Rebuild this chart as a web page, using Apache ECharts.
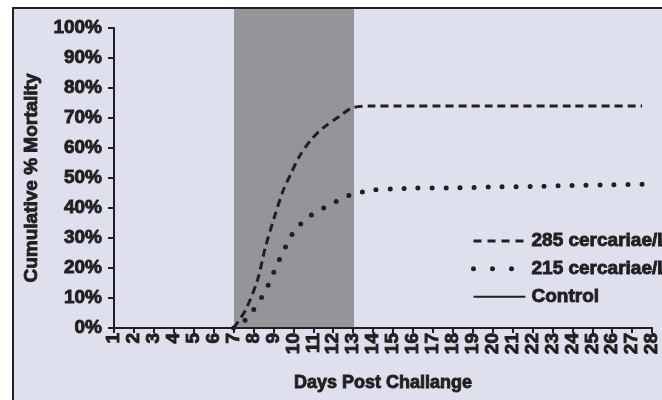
<!DOCTYPE html>
<html>
<head>
<meta charset="utf-8">
<script src="https://cdn.jsdelivr.net/npm/echarts@6/dist/echarts.min.js"></script>
<style>
html,body{margin:0;padding:0;background:#fff;}
#chart{width:662px;height:400px;}
</style>
</head>
<body>
<div id="chart"></div>
<script>
// ---- data ----
var xTickMin = 1, xTickMax = 28;
var yTickMin = 0, yTickMax = 100, yTickStep = 10;
var bandStartDay = 7, bandEndDay = 13;

var seriesNames = ['285 cercariae/L', '215 cercariae/L', 'Control'];

var days285 = [7, 7.6, 8.2, 8.6, 9.05, 9.5, 9.9, 10.3, 10.9, 11.5, 12.3, 13, 14, 16, 20, 24, 27.5];
var mort285 = [0, 6, 16, 27, 37, 46, 51.7, 57.2, 62.8, 66.7, 70.5, 73.5, 74, 74, 74, 74, 74];

var days215 = [7, 7.3, 7.8, 8.47, 8.8, 9.1, 9.4, 9.73, 10.1, 10.8, 11.3, 11.7, 12.45, 13, 13.5, 14, 15, 16, 17, 18, 20, 22, 24, 26, 28];
var mort215 = [0, 1, 4.2, 10.9, 15.2, 19.8, 24.2, 28.6, 32.8, 37.2, 39.2, 40.6, 43.2, 44.7, 45.4, 46, 46.4, 46.6, 46.7, 46.7, 47, 47.2, 47.5, 47.7, 48];

var daysControl = [1, 28];
var mortControl = [0, 0];

function pairs(xs, ys){ return xs.map(function(x,i){ return [x, ys[i]]; }); }

var INK = '#231f20';
var FONT = 'Liberation Sans, Arial, sans-serif';
function txt(size){
  return {color: INK, fontFamily: FONT, fontWeight: 'bold', fontSize: size,
          textBorderColor: INK, textBorderWidth: 0.9};
}

var dashStyle = {color: INK, width: 3, type: [8, 5]};
var dotStyle = {color: INK, width: 5, type: [0, 14], cap: 'round'};
var solidStyle = {color: INK, width: 2, type: 'solid'};

var chart = echarts.init(document.getElementById('chart'), null, {renderer:'canvas'});
chart.setOption({
  animation: false,
  backgroundColor: '#ffffff',
  graphic: [{
    type: 'rect', z: -10, silent: true,
    shape: {x: 13, y: 8, width: 720, height: 460},
    style: {fill: '#dfe0ee', stroke: INK, lineWidth: 2}
  }],
  grid: [
    {left: 114, right: 8, top: 28, bottom: 72},
    {left: 114, right: 8, top: 9, bottom: 72}
  ],
  xAxis: [{
    type: 'value', gridIndex: 0, min: xTickMin, max: xTickMax, interval: 1,
    axisLine: {lineStyle: {color: INK, width: 2}},
    axisTick: {show: true, length: 5, lineStyle: {color: INK, width: 2}},
    splitLine: {show: false},
    axisLabel: Object.assign({rotate: 90, margin: 5}, txt(19)),
    name: 'Days Post Challange', nameLocation: 'middle', nameGap: 46,
    nameTextStyle: txt(18)
  }, {
    type: 'value', gridIndex: 1, min: xTickMin, max: xTickMax, show: false
  }],
  yAxis: [{
    type: 'value', gridIndex: 0, min: yTickMin, max: yTickMax, interval: yTickStep,
    axisLine: {show: true, lineStyle: {color: INK, width: 2}},
    axisTick: {show: true, length: 6, lineStyle: {color: INK, width: 2}},
    splitLine: {show: false},
    axisLabel: Object.assign({formatter: '{value}%', margin: 12}, txt(19)),
    name: 'Cumulative % Mortality', nameLocation: 'middle', nameGap: 57,
    nameTextStyle: txt(19)
  }, {
    type: 'value', gridIndex: 1, min: 0, max: 1, show: false
  }],
  legend: {
    orient: 'vertical', left: 466, top: 226, itemGap: 8,
    itemWidth: 52, itemHeight: 19,
    itemStyle: {opacity: 0},
    data: [
      {name: seriesNames[0], lineStyle: {width: 3, type: [8, 6]}},
      {name: seriesNames[1], lineStyle: {width: 5, type: [0, 19], cap: 'round'}},
      {name: seriesNames[2], lineStyle: {width: 2}}
    ],
    textStyle: Object.assign({padding: [0,0,0,1]}, txt(19))
  },
  series: [{
    type: 'line', name: '__band', xAxisIndex: 1, yAxisIndex: 1,
    data: [], silent: true, z: 0,
    markArea: {silent: true, itemStyle: {color: '#939598', opacity: 1},
      data: [[{xAxis: bandStartDay}, {xAxis: bandEndDay}]]}
  }, {
    type: 'line', name: seriesNames[0], data: pairs(days285, mort285),
    smooth: 0.3, symbol: 'none', z: 5,
    lineStyle: dashStyle, itemStyle: {color: INK}
  }, {
    type: 'line', name: seriesNames[1], data: pairs(days215, mort215),
    smooth: 0.3, symbol: 'none', z: 5,
    lineStyle: dotStyle, itemStyle: {color: INK}
  }, {
    type: 'line', name: seriesNames[2], data: pairs(daysControl, mortControl),
    symbol: 'none', z: 4,
    lineStyle: solidStyle, itemStyle: {color: INK}
  }]
});
</script>
</body>
</html>
